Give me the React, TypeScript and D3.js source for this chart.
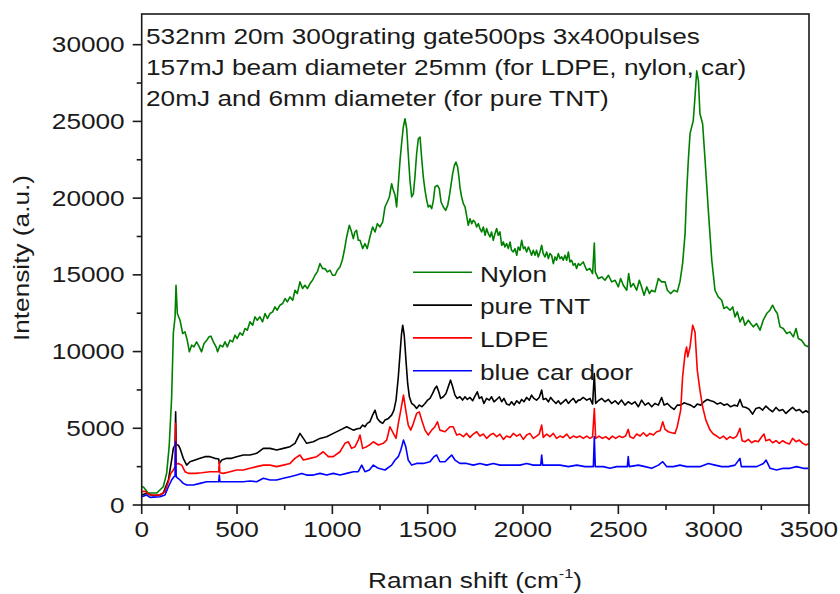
import React from 'react';
import * as d3 from 'd3';

// Raman spectra: [shift (cm^-1), intensity (a.u.)]
const nylon: [number, number][] = [
  [0,1200],[9,1170],[34,780],[79,780],[113,1190],[131,2080],[144,3800],[157,7000],[166,11200],[175,12260],[180,14320],[187,12480],[201,12040],
  [215,11176],[227,11285],[239,10742],[250,9983],[262,10416],[274,10308],[288,10634],[302,10308],[314,9983],[327,10525],[341,10742],[353,10959],[363,11003],[376,10634],[390,10308],[398,9983],[411,10416],[425,10308],[437,10634],[449,10308],[463,10742],[477,10634],[489,11068],[501,10851],[515,11220],[529,11068],[542,11502],[554,11393],[568,11936],[582,11719],[594,12261],[606,12044],[620,12261],[634,11936],[647,12478],[659,12153],[673,12478],[687,12587],[699,12912],[711,12695],[725,13020],[739,13129],[752,13455],[764,13237],[778,13563],[792,13346],[804,13997],[816,13780],[830,14540],[844,14106],[856,14322],[869,14106],[883,14431],[896,14648],[909,14974],[921,15191],[935,15733],[949,15408],[961,15408],[974,15191],[988,15299],[1001,14974],[1014,14974],[1026,15299],[1040,15516],[1052,15950],[1063,16601],[1075,17469],[1089,18229],[1098,17903],[1110,17361],[1118,17795],[1127,17903],[1136,17252],
  [1145,17252],[1159,16710],[1171,17035],[1183,16710],[1197,17469],[1211,18120],[1224,17795],[1236,18337],[1250,18120],[1264,18446],[1276,19422],[1288,19747],[1299,20073],[1311,20941],[1320,20507],[1329,20182],[1337,19422],[1346,20941],[1355,22460],[1363,23545],[1372,24630],[1381,25173],[1390,24521],[1398,22894],[1407,21158],[1416,20073],[1425,20290],[1433,21375],[1442,22894],[1451,23871],[1460,23979],[1468,22677],[1477,21375],[1486,20507],[1495,19856],[1503,19422],[1512,19531],[1521,19313],[1530,19856],[1538,20724],[1551,20833],[1561,20616],[1570,19747],[1582,19422],[1594,19205],[1605,19531],[1613,20073],[1622,20833],[1631,21592],[1640,22135],[1648,22351],[1657,22026],[1664,21375],[1669,20724],[1678,20073],[1687,19639],[1696,19422],[1704,18880],[1713,18229],[1722,18662],[1731,18337],[1739,18554],[1748,18446],[1757,18120],[1766,18337],[1774,18012],[1783,17795],[1792,18120],[1801,17578],[1809,18012],[1818,17686],[1827,17469],[1835,17795],[1844,17252],[1853,17686],[1862,18012],[1870,17578],[1879,17795],[1888,16927],[1897,17144],[1905,16818],[1914,17035],[1923,16710],[1932,17144],[1940,16601],[1949,16492],[1958,16710],[1967,16275],[1975,16818],[1984,16601],[1993,17252],[2002,16710],[2010,16818],[2019,16492],[2028,16818],[2036,16601],[2045,16275],[2054,16601],[2063,16275],[2071,16601],[2080,16167],[2089,16492],[2098,16927],[2106,16384],[2115,16167],[2124,16492],[2133,16058],[2141,16384],[2150,16275],[2159,15733],[2168,16167],[2176,15950],[2185,16384],[2194,16058],[2203,16167],[2211,15950],[2220,16275],[2229,15950],[2238,16492],[2246,15841],[2255,15950],[2264,15624],[2273,15733],[2281,15407],[2290,15733],
  [2299,15625],[2316,15841],[2334,15299],[2351,15408],[2365,15082],[2374,17078],[2379,15190],[2395,14757],[2413,14865],[2430,14648],[2448,14974],[2465,14540],[2483,14648],[2500,14214],[2512,14757],[2526,14322],[2544,13997],[2554,15082],[2565,14214],[2579,14431],[2596,13997],[2610,14648],[2622,14214],[2635,13672],[2649,14214],[2663,13780],[2675,13997],[2692,13889],[2710,14757],[2727,14540],[2745,14540],[2757,13997],[2774,13780],[2792,13997],[2809,13889],[2823,14540],[2837,15733],[2850,17686],[2858,20290],[2867,22460],[2876,24200],[2893,25060],[2902,26580],[2911,28300],[2920,27670],[2928,25500],[2942,24850],[2955,22460],[2972,19200],[2990,15950],[3007,13997],[3024,13563],[3042,13346],[3054,12803],[3068,12912],[3086,12695],[3100,12912],[3112,12261],[3124,12587],[3138,11936],[3152,12261],[3164,11719],[3182,12044],[3194,11827],[3208,11610],[3225,11827],[3243,11393],[3260,12044],[3278,12478],[3295,12695],[3309,13020],[3322,12695],[3334,12478],[3348,11610],[3365,11502],[3383,11176],[3400,11285],[3418,10959],[3432,11502],[3444,10850],[3461,10742],[3479,10416],[3496,10308],
];

const pureTNT: [number, number][] = [
  [0,650],[26,760],[60,600],[96,650],[113,780],[140,1630],[157,2930],[166,3700],[175,3900],[178,6070],[181,3950],[192,3900],[201,3690],[218,3040],[236,2600],[253,2820],[280,2930],[306,3040],[332,3150],[358,3150],[384,3040],[404,3000],[407,2710],[420,2930],[446,3040],[472,3040],[498,3150],[533,3260],[568,3260],[603,3370],[638,3690],[673,3690],[708,3580],[743,3690],[778,3800],[804,4020],[830,4670],[848,4340],[865,4020],[900,4120],[935,4340],[970,4450],[1005,4670],[1040,4880],[1075,5100],[1110,4880],[1136,4990],
  [1145,4992],[1159,5209],[1171,5100],[1183,5317],[1197,5426],[1211,5860],[1224,6185],[1236,5643],[1250,5426],[1264,5317],[1276,5534],[1294,5643],[1311,5860],[1323,6185],[1334,6836],[1346,8355],[1355,9874],[1363,11176],[1369,11719],[1377,11068],[1386,9440],[1395,7921],[1404,7053],[1416,6619],[1428,6510],[1442,6293],[1456,6510],[1470,6402],[1486,6619],[1500,6836],[1512,6945],[1526,7270],[1538,7596],[1547,7748],[1558,7378],[1568,6945],[1582,7053],[1596,7270],[1608,7704],[1620,8138],[1631,7704],[1643,7162],[1655,6945],[1669,7053],[1683,6836],[1696,7053],[1708,6879],[1722,7009],[1736,6793],[1748,7096],[1760,7378],[1771,6945],[1783,7053],[1795,6619],[1809,6945],[1823,6836],[1835,7053],[1848,6727],[1862,6879],[1876,7053],[1888,6727],[1900,6945],[1914,6576],[1928,6510],[1940,6727],[1953,6510],[1967,6793],[1981,6619],[1993,6879],[2005,6727],[2019,7009],[2033,6836],[2045,7162],[2057,6945],[2071,6836],[2085,7009],[2098,7487],[2106,6879],[2120,6945],[2133,6727],[2145,7009],[2159,6793],[2173,6619],[2185,6793],[2197,6576],[2211,6727],[2225,6879],[2238,6619],[2250,6793],[2264,6945],[2278,6662],[2290,6836],
  [2299,6836],[2316,7009],[2334,6836],[2351,6945],[2365,6576],[2374,8572],[2381,6619],[2395,6793],[2413,6945],[2430,6727],[2448,6879],[2465,6619],[2483,6793],[2500,6576],[2517,6836],[2535,6510],[2552,6727],[2570,6576],[2587,6727],[2605,6402],[2622,6836],[2640,6510],[2657,6662],[2675,6402],[2692,6619],[2710,6510],[2727,7009],[2740,6510],[2757,6619],[2774,6402],[2792,6228],[2809,6510],[2827,6510],[2844,6662],[2862,6576],[2879,6510],[2897,6358],[2914,6576],[2932,6510],[2949,6727],[2967,6879],[2984,6793],[3002,6727],[3019,6576],[3037,6662],[3054,6510],[3072,6576],[3089,6402],[3107,6510],[3124,6445],[3138,6879],[3152,6402],[3170,6358],[3187,6228],[3204,5925],[3222,6293],[3239,6358],[3257,6185],[3274,6445],[3292,6228],[3309,6076],[3327,6358],[3344,6141],[3362,6228],[3379,5968],[3397,6185],[3414,6358],[3432,6141],[3449,6228],[3467,6011],[3484,6141],[3500,6011],
];

const ldpe: [number, number][] = [
  [0,870],[17,900],[44,650],[96,650],[122,870],[140,1520],[152,2060],[166,2280],[175,2500],[178,5320],[181,2650],[192,2710],[210,2600],[227,2170],[245,2060],[280,2060],[315,2100],[358,2170],[393,2170],[404,2170],[407,2820],[410,2100],[428,2060],[463,2170],[498,2280],[533,2280],[568,2390],[603,2500],[638,2600],[673,2600],[708,2500],[743,2600],[778,2710],[804,3040],[830,3260],[848,2930],[883,3040],[918,3150],[952,3470],[979,3150],[1005,3150],[1040,3470],[1066,4020],[1084,4120],[1101,3690],[1119,3800],[1136,4230],[1145,4560],[1159,3690],[1180,3800],[1194,3910],[1215,4120],[1241,3910],[1267,4020],[1285,4230],[1302,5100],[1320,4670],[1334,4340],[1346,5320],[1359,6180],[1373,7160],[1385,6180],[1398,5210],[1411,4880],[1425,5320],[1442,5970],[1456,6070],[1469,5530],[1486,4880],[1503,4560],[1521,4880],[1538,5100],[1551,5420],[1564,4880],[1591,4770],[1617,5100],[1634,5100],
  [1652,4558],[1669,4623],[1687,4449],[1704,4666],[1722,4406],[1739,4623],[1757,4774],[1774,4493],[1792,4623],[1809,4341],[1827,4558],[1844,4666],[1862,4449],[1879,4623],[1897,4276],[1914,4493],[1932,4406],[1949,4666],[1967,4493],[1984,4623],[2002,4276],[2019,4558],[2036,4666],[2054,4341],[2071,4493],[2085,4623],[2098,5209],[2106,4406],[2124,4623],[2141,4449],[2159,4666],[2176,4341],[2194,4493],[2211,4406],[2229,4623],[2246,4341],[2264,4493],[2281,4406],[2299,4493],[2316,4341],[2334,4493],[2351,4341],[2365,4449],[2374,6293],[2381,4341],[2399,4493],[2416,4341],[2434,4449],[2451,4276],[2469,4493],[2486,4341],[2504,4493],[2521,4406],[2538,4493],[2552,4926],[2561,4449],[2579,4341],[2596,4623],[2614,4493],[2631,4710],[2649,4493],[2666,4666],[2684,4558],[2701,4774],[2719,4840],[2733,5426],[2745,4926],[2762,4774],[2780,4710],[2797,4666],[2809,5100],[2827,6180],[2837,8350],[2850,9870],[2858,10300],[2864,9650],[2876,10300],[2890,11720],[2902,11280],[2914,8790],[2928,7490],[2942,6400],[2959,5530],[2981,4883],[2998,4623],[3016,4493],[3033,4341],[3051,4493],[3068,4276],[3086,4449],[3103,4341],[3121,4493],[3138,4991],[3149,4189],[3164,4124],[3182,4276],[3199,4059],[3217,4189],[3234,4124],[3252,4449],[3264,4623],[3274,4189],[3292,4276],[3309,4059],[3327,4189],[3344,4016],[3362,4189],[3379,4059],[3397,3972],[3414,4341],[3432,4124],[3449,4232],[3467,4016],[3484,3907],[3500,4016],
];

const blueCarDoor: [number, number][] = [
  [0,540],[26,650],[44,500],[96,540],[122,650],[140,1190],[157,1630],[169,1840],[175,1900],[178,4120],[181,1840],[201,1630],[218,1410],[236,1300],[271,1300],[306,1410],[341,1520],[375,1520],[404,1520],[407,1950],[410,1520],[428,1520],[463,1520],[498,1520],[533,1520],[568,1560],[603,1520],[638,1740],[673,1630],[708,1630],[743,1740],[778,1840],[813,1950],[839,2060],[865,1950],[900,1950],[935,2060],[970,1950],[1005,2060],[1040,1950],[1075,2060],[1110,2170],[1136,2170],[1154,2600],[1171,2170],[1194,2280],[1215,2600],[1241,2390],[1276,2280],[1311,2600],[1329,2930],[1346,3150],[1359,3580],[1373,4230],[1385,3800],[1398,2930],[1416,2600],[1442,2710],[1477,2710],[1512,2820],[1533,3150],[1547,3260],[1564,2820],[1591,2820],[1608,3040],[1626,3260],[1643,2930],[1669,2710],[1704,2710],[1739,2600],[1774,2710],[1809,2600],[1844,2710],[1879,2600],[1914,2600],[1949,2600],[1984,2600],[2019,2710],[2054,2600],[2093,2600],[2098,3260],[2103,2600],[2150,2600],[2194,2600],[2238,2500],[2282,2600],[2325,2500],[2369,2500],[2374,4450],[2379,2500],[2421,2500],[2456,2390],[2491,2500],[2526,2500],[2547,2500],[2552,3150],[2557,2500],[2605,2600],[2640,2500],[2675,2390],[2710,2600],[2733,2820],[2754,2500],[2789,2500],[2823,2600],[2858,2500],[2893,2500],[2928,2500],[2972,2710],[3007,2600],[3042,2500],[3077,2500],[3112,2600],[3138,3040],[3145,2500],[3191,2500],[3226,2500],[3261,2710],[3275,2930],[3296,2390],[3330,2280],[3365,2390],[3400,2390],[3435,2500],[3470,2390],[3496,2390],
];

const seriesNames = ['Nylon', 'pure TNT', 'LDPE', 'blue car door'];
const seriesColors = ['#008000', '#000000', '#ff0000', '#0000ff'];
const seriesData = [nylon, pureTNT, ldpe, blueCarDoor];

const xTicks = [0, 500, 1000, 1500, 2000, 2500, 3000, 3500];
const xMinorTicks = [250, 750, 1250, 1750, 2250, 2750, 3250];
const yTicks = [0, 5000, 10000, 15000, 20000, 25000, 30000];
const yMinorTicks = [2500, 7500, 12500, 17500, 22500, 27500];

const noteLines = [
  '532nm 20m 300grating gate500ps 3x400pulses',
  '157mJ beam diameter 25mm (for LDPE, nylon, car)',
  '20mJ and 6mm diameter (for pure TNT)',
];

const FONT = '"Liberation Sans", Arial, sans-serif';
const FS = 21.5;   // font size
const SX = 1.22;   // glyph stretch along the baseline

export default function App() {
  const left = 141.7, right = 809, top = 14, bottom = 505;
  const x = d3.scaleLinear().domain([0, 3500]).range([left, right]);
  const y = d3.scaleLinear().domain([0, 32000]).range([bottom, top]);
  const line = d3.line<[number, number]>().x(d => x(d[0])).y(d => y(d[1]));

  const axisColor = '#1a1a1a';

  return (
    <svg width={840} height={594} style={{ position: 'absolute', left: 0, top: 0, background: '#fff' }}
      fontFamily={FONT}>
      <defs>
        <clipPath id="plot-area">
          <rect x={left} y={top} width={right - left} height={bottom - top} />
        </clipPath>
      </defs>

      {/* spectra */}
      <g clipPath="url(#plot-area)" fill="none" strokeWidth={1.6} strokeLinejoin="round">
        {seriesData.map((d, i) => (
          <path key={seriesNames[i]} d={line(d) ?? ''} stroke={seriesColors[i]} />
        ))}
      </g>

      {/* frame */}
      <rect x={left} y={top} width={right - left} height={bottom - top} fill="none"
        stroke={axisColor} strokeWidth={1.6} />

      {/* ticks */}
      <g stroke={axisColor} strokeWidth={1.6}>
        {xTicks.map(t => <line key={'xt' + t} x1={x(t)} x2={x(t)} y1={bottom} y2={bottom + 9} />)}
        {xMinorTicks.map(t => <line key={'xm' + t} x1={x(t)} x2={x(t)} y1={bottom} y2={bottom + 5} />)}
        {yTicks.map(t => <line key={'yt' + t} x1={left} x2={left - 9} y1={y(t)} y2={y(t)} />)}
        {yMinorTicks.map(t => <line key={'ym' + t} x1={left} x2={left - 5} y1={y(t)} y2={y(t)} />)}
      </g>

      <g fill="#1a1a1a" fontSize={FS}>
        {xTicks.map(t => (
          <text key={'xl' + t} transform={`translate(${x(t)},${537}) scale(${SX},1)`} textAnchor="middle">{t}</text>
        ))}
        {yTicks.map(t => (
          <text key={'yl' + t} transform={`translate(${left - 17},${y(t) + 7.5}) scale(${SX},1)`} textAnchor="end">{t}</text>
        ))}

        {/* axis titles */}
        <text transform={`translate(475,588) scale(${SX},1)`} textAnchor="middle">
          Raman shift (cm<tspan fontSize={FS * 0.62} dy={-10}>-1</tspan><tspan dy={10}>)</tspan>
        </text>
        <text transform={`translate(29,258) rotate(-90) scale(${SX},1)`} textAnchor="middle">Intensity (a.u.)</text>

        {/* notes */}
        {noteLines.map((s, i) => (
          <text key={'n' + i} transform={`translate(146,${43.5 + i * 31.3}) scale(${SX},1)`}>{s}</text>
        ))}

        {/* legend */}
        {seriesNames.map((s, i) => (
          <g key={'lg' + i}>
            <line x1={413} x2={472} y1={272.3 + i * 32.8} y2={272.3 + i * 32.8} stroke={seriesColors[i]} strokeWidth={1.6} />
            <text transform={`translate(480,${281.5 + i * 32.8}) scale(${SX},1)`}>{s}</text>
          </g>
        ))}
      </g>
    </svg>
  );
}
